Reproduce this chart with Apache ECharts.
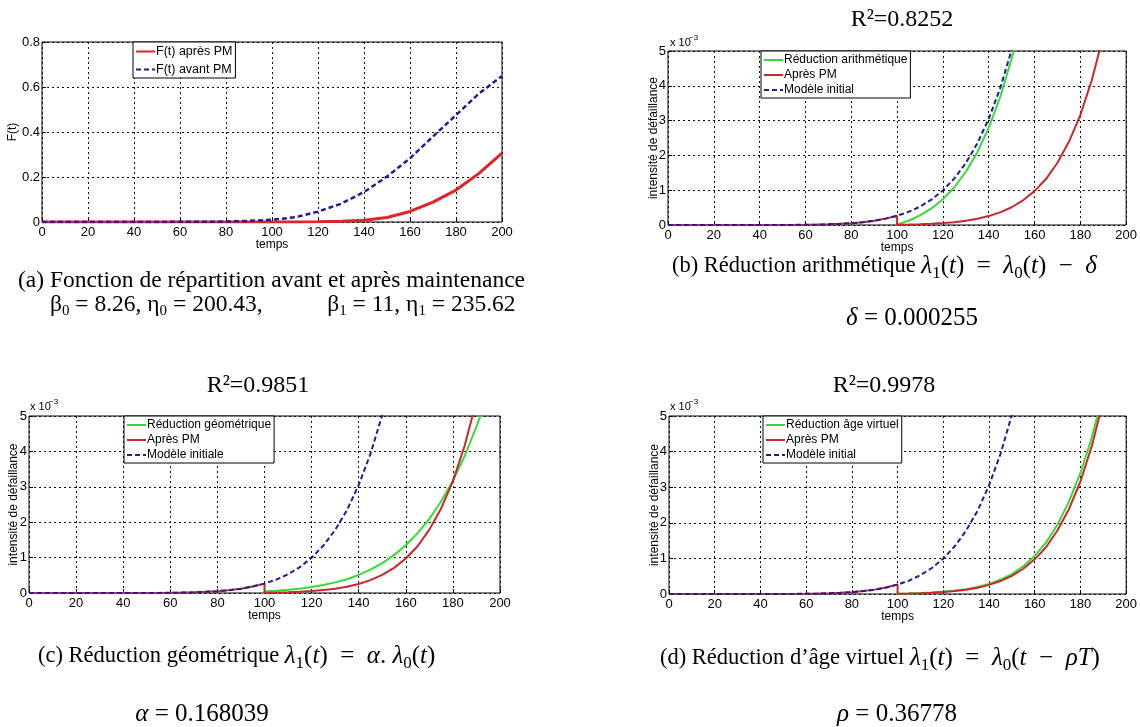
<!DOCTYPE html>
<html>
<head>
<meta charset="utf-8">
<script src="https://cdn.jsdelivr.net/npm/echarts@6/dist/echarts.min.js"></script>
<style>
  html, body { margin: 0; padding: 0; background: #fff; }
  #main { width: 1140px; height: 727px; }
</style>
</head>
<body>
<div id="main"></div>
<script>
// (a) fonction de répartition F(t)
const tRep = [0, 10, 20, 30, 40, 50, 60, 70, 80, 90, 100, 110, 120, 130, 140, 150, 160, 170, 180, 190, 200];
const fAvantPM = [0, 0, 0, 0, 0, 0, 0.001, 0.001, 0.002, 0.005, 0.01, 0.021, 0.046, 0.081, 0.133, 0.202, 0.283, 0.38, 0.475, 0.571, 0.649];
const fApresPM = [0, 0, 0, 0, 0, 0, 0, 0, 0, 0, 0, 0, 0.001, 0.003, 0.008, 0.02, 0.047, 0.088, 0.142, 0.216, 0.306];

// intensité de défaillance, en unités de 10^-3
const tInit = [0, 10, 20, 30, 40, 50, 55, 60, 65, 70, 75, 80, 85, 90, 95, 100, 105, 110, 115, 120, 125, 130, 135, 140, 145, 150, 152];
const lambdaInit = [0, 0, 0, 0.0001, 0.0004, 0.0017, 0.0034, 0.0065, 0.012, 0.02, 0.033, 0.052, 0.081, 0.123, 0.183, 0.265, 0.377, 0.529, 0.731, 0.994, 1.34, 1.78, 2.34, 3.05, 3.93, 5.03, 5.5];

const tPM = [100, 105, 110, 115, 120, 125, 130, 135, 140, 145, 150, 155, 160, 165, 170, 175, 180, 185, 190];
const lambdaApresPM = [0.009, 0.014, 0.023, 0.036, 0.055, 0.082, 0.122, 0.178, 0.256, 0.364, 0.51, 0.71, 0.974, 1.32, 1.79, 2.39, 3.16, 4.16, 5.43];

const tArith = [100, 105, 110, 115, 120, 125, 130, 135, 140, 145, 150, 152];
const lambdaArith = [0.01, 0.122, 0.274, 0.476, 0.739, 1.085, 1.525, 2.085, 2.795, 3.675, 4.775, 5.25];

const tGeo = [100, 105, 110, 115, 120, 125, 130, 135, 140, 145, 150, 155, 160, 165, 170, 175, 180, 185, 190, 193];
const lambdaGeo = [0.045, 0.063, 0.089, 0.123, 0.167, 0.225, 0.3, 0.39, 0.51, 0.66, 0.845, 1.07, 1.35, 1.69, 2.09, 2.59, 3.17, 3.87, 4.7, 5.25];

const tVirt = [100, 105, 110, 115, 120, 125, 130, 135, 140, 145, 150, 155, 160, 165, 170, 175, 180, 185, 188];
const lambdaVirt = [0.01, 0.016, 0.026, 0.041, 0.062, 0.093, 0.137, 0.198, 0.285, 0.4, 0.56, 0.78, 1.07, 1.45, 1.95, 2.6, 3.4, 4.4, 5.15];

const RED_A = '#e3232a';
const RED = '#c9272c';
const GREEN = '#36dc36';
const BLUE = '#1e1e96';

function pairs(t, v) {
  return t.map((x, i) => [x, v[i]]);
}
// courbe "Après PM" : modèle initial jusqu'à la maintenance (t=100), puis saut
const apresPM = pairs(tInit, lambdaInit).filter(p => p[0] <= 100).concat(pairs(tPM, lambdaApresPM));

const sans = 'Liberation Sans, Arial, sans-serif';
const serif = 'Liberation Serif, Times New Roman, serif';

function xAx(g) {
  return {
    type: 'value', gridIndex: g, min: 0, max: 200, interval: 20,
    name: 'temps', nameLocation: 'middle', nameGap: 17, nameMoveOverlap: false,
    nameTextStyle: { fontFamily: sans, fontSize: 12, color: '#000' },
    axisLine: { show: false },
    axisTick: { inside: true, length: 4, lineStyle: { color: '#000' } },
    axisLabel: { fontFamily: sans, fontSize: 13, color: '#000', margin: 4 },
    splitLine: { show: true, lineStyle: { color: '#111', type: [2, 3], width: 1 } }
  };
}
function yAx(g, max, interval, name, gap) {
  return {
    type: 'value', gridIndex: g, min: 0, max: max, interval: interval,
    name: name, nameLocation: 'middle', nameGap: gap, nameMoveOverlap: false,
    nameTextStyle: { fontFamily: sans, fontSize: 12, color: '#000' },
    axisLine: { show: false },
    axisTick: { inside: true, length: 4, lineStyle: { color: '#000' } },
    axisLabel: { fontFamily: sans, fontSize: 13, color: '#000', margin: 2 },
    splitLine: { show: true, lineStyle: { color: '#111', type: [2, 3], width: 1 } }
  };
}
function line(name, g, data, color, dashed, width) {
  return {
    name: name, type: 'line', xAxisIndex: g, yAxisIndex: g,
    data: data, showSymbol: false, symbol: 'none', animation: false,
    lineStyle: { color: color, width: width || 2, type: dashed ? [5, 3] : 'solid' },
    itemStyle: { color: color }
  };
}
function legend(left, top, names, gap, size) {
  return {
    left: left, top: top, orient: 'vertical', data: names,
    backgroundColor: '#fff', borderColor: '#000', borderWidth: 1, borderRadius: 0,
    padding: [3, 3, 2, 2], itemGap: gap, itemWidth: 19, itemHeight: 12,
    itemStyle: { opacity: 0 },
    textStyle: { fontFamily: sans, fontSize: size, color: '#000', padding: [0, 0, 0, -4] },
    selectedMode: false
  };
}
const rich = {
  m: { fontFamily: serif, fontSize: 25, fontStyle: 'italic', fill: '#000' },
  n: { fontFamily: serif, fontSize: 25, fill: '#000' },
  s: { fontFamily: serif, fontSize: 17, fill: '#000', padding: [15, 0, 0, 0] },
  b: { fontFamily: serif, fontSize: 15, fill: '#000', padding: [12, 0, 0, 0] }
};
function txt(x, y, text, size, align) {
  return {
    type: 'text', x: x, y: y, silent: true,
    style: {
      text: text, fill: '#000', font: size + 'px ' + serif,
      align: align, verticalAlign: 'middle', textAlign: align, textVerticalAlign: 'middle',
      rich: rich
    }
  };
}
function exponent(x, y) {
  return [
    { type: 'text', x: x, y: y, silent: true, style: { text: 'x 10', fill: '#000', font: '11px ' + sans, verticalAlign: 'middle', textVerticalAlign: 'middle' } },
    { type: 'text', x: x + 19, y: y - 5, silent: true, style: { text: '−3', fill: '#000', font: '8px ' + sans, verticalAlign: 'middle', textVerticalAlign: 'middle' } }
  ];
}

const chart = echarts.init(document.getElementById('main'), null, { renderer: 'canvas' });
chart.setOption({
  animation: false,
  backgroundColor: '#fff',
  grid: [
    { left: 42, top: 42, width: 460, height: 180, show: true, borderColor: '#000', borderWidth: 1, backgroundColor: '#fff' },
    { left: 668, top: 51, width: 462, height: 174, show: true, borderColor: '#000', borderWidth: 1, backgroundColor: '#fff' },
    { left: 29, top: 416, width: 471, height: 177, show: true, borderColor: '#000', borderWidth: 1, backgroundColor: '#fff' },
    { left: 669, top: 416, width: 461, height: 178, show: true, borderColor: '#000', borderWidth: 1, backgroundColor: '#fff' }
  ],
  xAxis: [xAx(0), xAx(1), xAx(2), xAx(3)],
  yAxis: [
    yAx(0, 0.8, 0.2, 'F(t)', 23),
    yAx(1, 5, 1, 'intensité de défaillance', 8),
    yAx(2, 5, 1, 'intensité de défaillance', 9),
    yAx(3, 5, 1, 'intensité de défaillance', 8)
  ],
  legend: [
    legend(133, 42, ['F(t) après PM', 'F(t) avant PM'], 5, 12.5),
    legend(761, 51, ['Réduction arithmétique', 'Après PM', 'Modèle initial'], 3, 12),
    legend(124, 416, ['Réduction géométrique', 'Après PM', 'Modèle initiale'], 3, 12),
    legend(763, 416, ['Réduction âge virtuel', 'Après PM', 'Modèle initial'], 3, 12)
  ],
  series: [
    line('F(t) après PM', 0, pairs(tRep, fApresPM), RED_A, false, 3),
    line('F(t) avant PM', 0, pairs(tRep, fAvantPM), BLUE, true, 2.5),

    line('Réduction arithmétique', 1, pairs(tArith, lambdaArith), GREEN, false),
    line('Après PM', 1, apresPM, RED, false),
    line('Modèle initial', 1, pairs(tInit, lambdaInit), BLUE, true),

    line('Réduction géométrique', 2, pairs(tGeo, lambdaGeo), GREEN, false),
    line('Après PM', 2, apresPM, RED, false),
    line('Modèle initiale', 2, pairs(tInit, lambdaInit), BLUE, true),

    line('Réduction âge virtuel', 3, pairs(tVirt, lambdaVirt), GREEN, false),
    line('Après PM', 3, apresPM, RED, false),
    line('Modèle initial', 3, pairs(tInit, lambdaInit), BLUE, true)
  ],
  graphic: [
    txt(902, 20, 'R²=0.8252', 24, 'center'),
    txt(258, 386, 'R²=0.9851', 24, 'center'),
    txt(884, 386, 'R²=0.9978', 24, 'center'),
    txt(18, 281, '(a) Fonction de répartition avant et après maintenance', 23.5, 'left'),
    txt(50, 305, 'β{b|0} = 8.26, η{b|0} = 200.43,           β{b|1} = 11, η{b|1} = 235.62', 23.5, 'left'),
    txt(672, 266, '(b) Réduction arithmétique {m|λ}{s|1}{n|(}{m|t}{n|)  =  }{m|λ}{s|0}{n|(}{m|t}{n|)  −  }{m|δ}', 22.5, 'left'),
    txt(912, 318, '{m|δ}{n| = 0.000255}', 26, 'center'),
    txt(38, 656, '(c) Réduction géométrique {m|λ}{s|1}{n|(}{m|t}{n|)  =  }{m|α}{n|. }{m|λ}{s|0}{n|(}{m|t}{n|)}', 22.5, 'left'),
    txt(202, 714, '{m|α}{n| = 0.168039}', 26, 'center'),
    txt(660, 658, '(d) Réduction d’âge virtuel {m|λ}{s|1}{n|(}{m|t}{n|)  =  }{m|λ}{s|0}{n|(}{m|t}{n|  −  }{m|ρT}{n|)}', 22.5, 'left'),
    txt(897, 714, '{m|ρ}{n| = 0.36778}', 26, 'center')
  ].concat(exponent(670, 43), exponent(30, 407), exponent(670, 407))
});
</script>
</body>
</html>
